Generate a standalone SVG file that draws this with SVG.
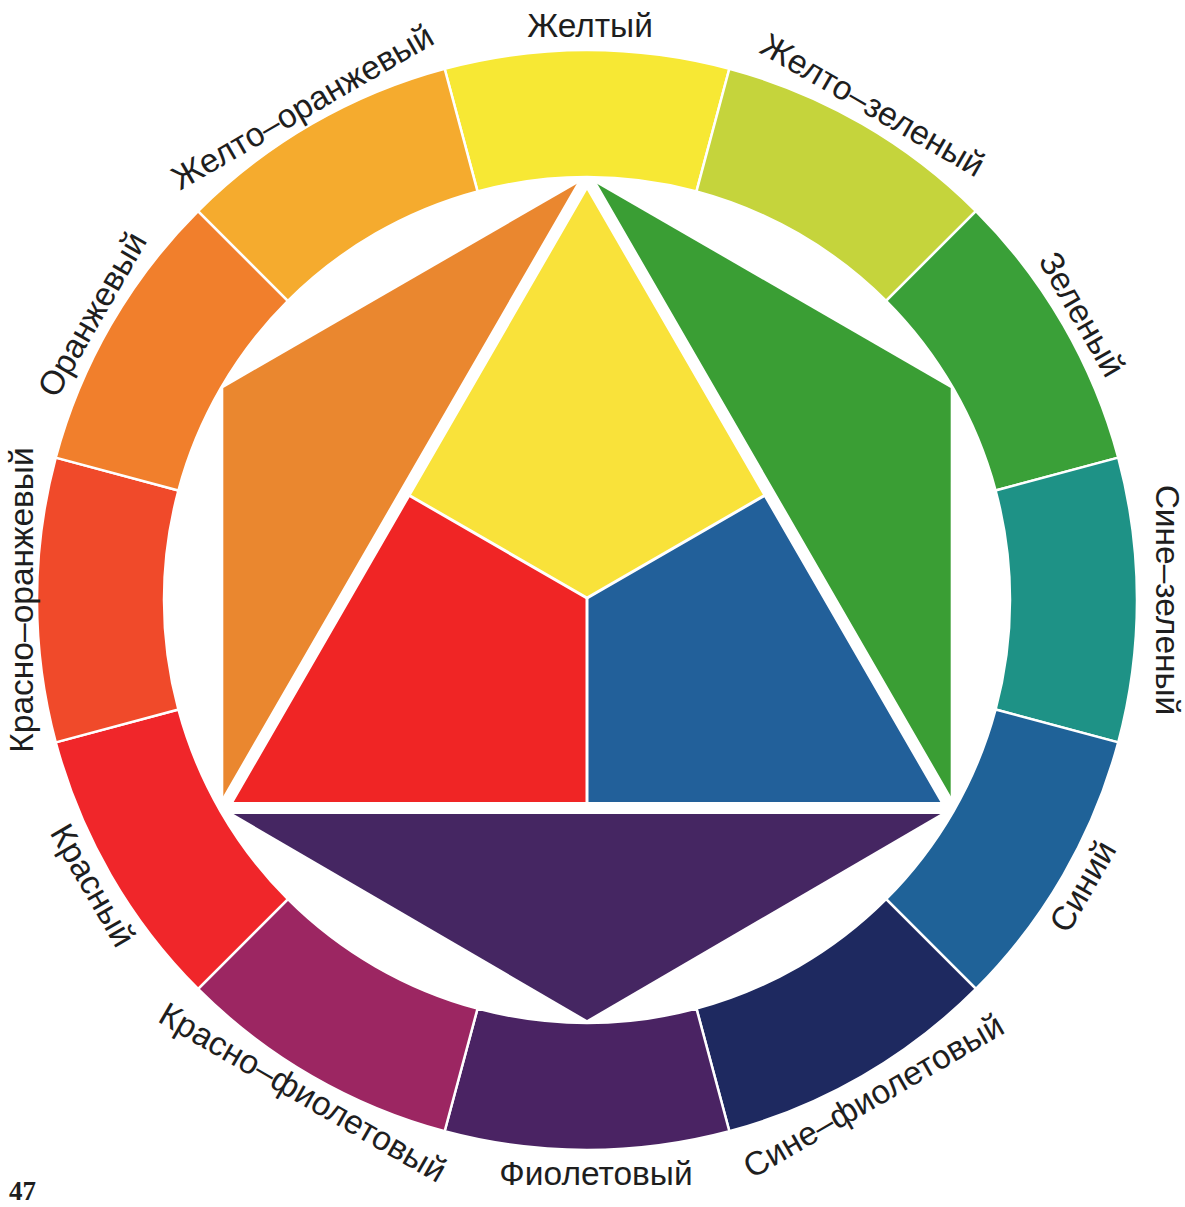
<svg xmlns="http://www.w3.org/2000/svg" width="1185" height="1207" viewBox="0 0 1185 1207">
<style>
.seg{stroke:#fff;stroke-width:2.5;stroke-linejoin:round}
.lbl{font-family:"Liberation Sans",Arial,sans-serif;font-size:33.5px;fill:#1e1e1e;text-anchor:middle}
.pg{font-family:"Liberation Serif","Times New Roman",serif;font-size:27px;font-weight:bold;fill:#1e1e1e}
</style>
<rect width="1185" height="1207" fill="#fff"/>
<g id="inner">
  <g id="orange-tri"><polygon points="587,178 223.3,388 223.3,808" fill="#ea872f"/></g>
  <g id="green-tri"><polygon points="587,178 950.7,388 950.7,808" fill="#3a9e34"/></g>
  <g id="violet-tri"><polygon points="223.3,808 587,1020 950.7,808" fill="#452662"/></g>
  <g id="yellow-core"><polygon points="587,178 768.9,493 587,598 405.1,493" fill="#f9e23a"/></g>
  <g id="red-core"><polygon points="405.1,493 587,598 587,808 223.3,808" fill="#f02525"/></g>
  <g id="blue-core"><polygon points="768.9,493 950.7,808 587,808 587,598" fill="#22609a"/></g>
</g>
<g id="connectors" fill="none" stroke="#fff">
  <polygon points="587,178 950.7,808 223.3,808" stroke-width="12" stroke-linejoin="miter"/>
  <polyline points="405.1,493 587,598 768.9,493" stroke-width="3"/>
  <line x1="587" y1="598" x2="587" y2="808" stroke-width="3"/>
</g>
<g id="ring">
  <g id="seg-yellow"><path class="seg" fill="#f7e834" d="M444.65,68.74 A550,550 0 0 1 729.35,68.74 L696.48,191.41 A423,423 0 0 0 477.52,191.41 Z"/></g>
  <g id="seg-yellow-green"><path class="seg" fill="#c5d43c" d="M729.35,68.74 A550,550 0 0 1 975.91,211.09 L886.11,300.89 A423,423 0 0 0 696.48,191.41 Z"/></g>
  <g id="seg-green"><path class="seg" fill="#3aa038" d="M975.91,211.09 A550,550 0 0 1 1118.26,457.65 L995.59,490.52 A423,423 0 0 0 886.11,300.89 Z"/></g>
  <g id="seg-blue-green"><path class="seg" fill="#1e9286" d="M1118.26,457.65 A550,550 0 0 1 1118.26,742.35 L995.59,709.48 A423,423 0 0 0 995.59,490.52 Z"/></g>
  <g id="seg-blue"><path class="seg" fill="#1f6298" d="M1118.26,742.35 A550,550 0 0 1 975.91,988.91 L886.11,899.11 A423,423 0 0 0 995.59,709.48 Z"/></g>
  <g id="seg-blue-violet"><path class="seg" fill="#1e2960" d="M975.91,988.91 A550,550 0 0 1 729.35,1131.26 L696.48,1008.59 A423,423 0 0 0 886.11,899.11 Z"/></g>
  <g id="seg-violet"><path class="seg" fill="#4a2363" d="M729.35,1131.26 A550,550 0 0 1 444.65,1131.26 L477.52,1008.59 A423,423 0 0 0 696.48,1008.59 Z"/></g>
  <g id="seg-red-violet"><path class="seg" fill="#9c2662" d="M444.65,1131.26 A550,550 0 0 1 198.09,988.91 L287.89,899.11 A423,423 0 0 0 477.52,1008.59 Z"/></g>
  <g id="seg-red"><path class="seg" fill="#f0262a" d="M198.09,988.91 A550,550 0 0 1 55.74,742.35 L178.41,709.48 A423,423 0 0 0 287.89,899.11 Z"/></g>
  <g id="seg-red-orange"><path class="seg" fill="#f04a2a" d="M55.74,742.35 A550,550 0 0 1 55.74,457.65 L178.41,490.52 A423,423 0 0 0 178.41,709.48 Z"/></g>
  <g id="seg-orange"><path class="seg" fill="#f17f2c" d="M55.74,457.65 A550,550 0 0 1 198.09,211.09 L287.89,300.89 A423,423 0 0 0 178.41,490.52 Z"/></g>
  <g id="seg-yellow-orange"><path class="seg" fill="#f5ab2e" d="M198.09,211.09 A550,550 0 0 1 444.65,68.74 L477.52,191.41 A423,423 0 0 0 287.89,300.89 Z"/></g>
</g>
<g id="labels">
  <text class="lbl" x="590" y="37">Желтый</text>
  <text class="lbl" x="587" y="40" transform="rotate(30 587 600)">Желто–зеленый</text>
  <text class="lbl" x="587" y="40" transform="rotate(60 587 600)">Зеленый</text>
  <text class="lbl" x="587" y="31" transform="rotate(90 587 600)">Сине–зеленый</text>
  <text class="lbl" x="587" y="1184" transform="rotate(-60 587 600)">Синий</text>
  <text class="lbl" x="587" y="1184" transform="rotate(-30 587 600)">Сине–фиолетовый</text>
  <text class="lbl" x="596" y="1185">Фиолетовый</text>
  <text class="lbl" x="587" y="1180" transform="rotate(30 587 600)">Красно–фиолетовый</text>
  <text class="lbl" x="587" y="1182" transform="rotate(60 587 600)">Красный</text>
  <text class="lbl" x="587" y="46" transform="rotate(-90 587 600)">Красно–оранжевый</text>
  <text class="lbl" x="587" y="40" transform="rotate(-60 587 600)">Оранжевый</text>
  <text class="lbl" x="587" y="42" transform="rotate(-30 587 600)">Желто–оранжевый</text>
</g>
<text class="pg" x="9" y="1200">47</text>
</svg>
